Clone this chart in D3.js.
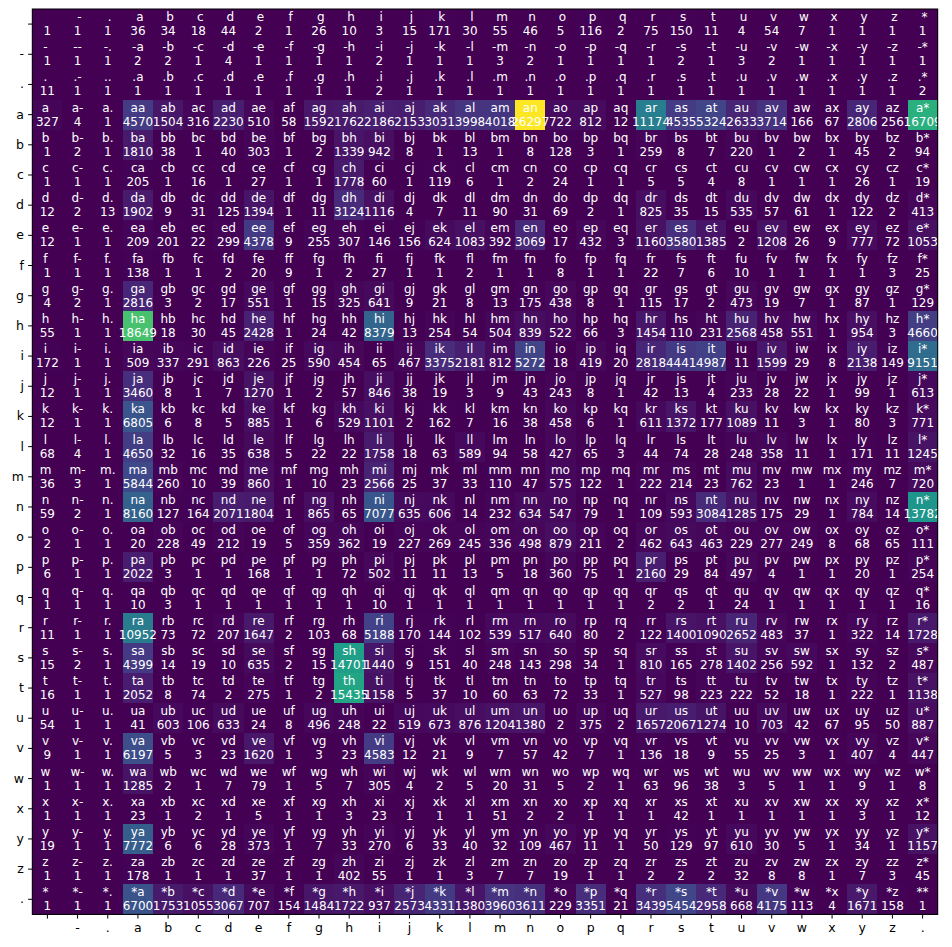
<!DOCTYPE html>
<html>
<head>
<meta charset="utf-8">
<script src="https://cdn.jsdelivr.net/npm/d3@7"></script>
<style>
  body { margin: 0; background: #fff; }
  text { font-family: "DejaVu Sans", sans-serif; }
</style>
</head>
<body>
<svg id="chart" width="952" height="947"></svg>
<script>
// characters used in the cell labels, and the tick labels shown on the axes
var chars = [" ", "-", ".", "a", "b", "c", "d", "e", "f", "g", "h", "i", "j", "k", "l", "m",
             "n", "o", "p", "q", "r", "s", "t", "u", "v", "w", "x", "y", "z", "*"];
var tickLabels = [" ", "-", ".", "a", "b", "c", "d", "e", "f", "g", "h", "i", "j", "k", "l", "m",
                  "n", "o", "p", "q", "r", "s", "t", "u", "v", "w", "x", "y", "z", "."];

// bigram counts, one row per first character
var counts = [
  [1,1,1,36,34,18,44,2,1,26,10,3,15,171,30,55,46,5,116,2,75,150,11,4,54,7,1,1,1,1],
  [1,1,1,2,2,1,4,1,1,1,1,2,1,1,1,3,2,1,1,1,1,2,1,3,2,1,1,1,1,1],
  [11,1,1,1,1,1,1,1,1,1,1,2,1,1,1,1,1,1,1,1,1,1,1,1,1,1,1,1,1,2],
  [327,4,1,4570,1504,316,2230,510,58,1592,1762,2186,2153,3031,3998,4018,26297,722,812,12,11174,4535,5324,2633,3714,166,67,2806,256,16709],
  [1,2,1,1810,38,1,40,303,1,2,1339,942,8,1,13,1,8,128,3,1,259,8,7,220,1,2,1,45,2,94],
  [1,1,1,205,1,16,1,27,1,1,1778,60,1,119,6,1,2,24,1,1,5,5,4,8,1,1,1,26,1,19],
  [12,2,13,1902,9,31,125,1394,1,11,3124,1116,4,7,11,90,31,69,2,1,825,35,15,535,57,61,1,122,2,413],
  [12,1,1,209,201,22,299,4378,9,255,307,146,156,624,1083,392,3069,17,432,3,1160,3580,1385,2,1208,26,9,777,72,1053],
  [1,1,1,138,1,1,2,20,9,1,2,27,1,1,2,1,1,8,1,1,22,7,6,10,1,1,1,1,3,25],
  [4,2,1,2816,3,2,17,551,1,15,325,641,9,21,8,13,175,438,8,1,115,17,2,473,19,7,1,87,1,129],
  [55,1,1,18649,18,30,45,2428,1,24,42,8379,13,254,54,504,839,522,66,3,1454,110,231,2568,458,551,1,954,3,4660],
  [172,1,1,509,337,291,863,226,25,590,454,65,467,3375,2181,812,5272,18,419,20,2818,4441,4987,11,1599,29,8,2138,149,9151],
  [12,1,1,3460,8,1,7,1270,1,2,57,846,38,19,3,9,43,243,8,1,42,13,4,233,28,22,1,99,1,613],
  [12,1,1,6805,6,8,5,885,1,6,529,1101,2,162,7,16,38,458,6,1,611,1372,177,1089,11,3,1,80,3,771],
  [68,4,1,4650,32,16,35,638,5,22,22,1758,18,63,589,94,58,427,65,3,44,74,28,248,358,11,1,171,11,1245],
  [36,3,1,5844,260,10,39,860,1,10,23,2566,25,37,33,110,47,575,122,1,222,214,23,762,23,1,1,246,7,720],
  [59,2,1,8160,127,164,2071,1804,1,865,65,7077,635,606,14,232,634,547,79,1,109,593,3084,1285,175,29,1,784,14,13782],
  [2,1,1,20,228,49,212,19,5,359,362,19,227,269,245,336,498,879,211,2,462,643,463,229,277,249,8,68,65,111],
  [6,1,1,2022,3,1,1,168,1,1,72,502,11,11,13,5,18,360,75,1,2160,29,84,497,4,1,1,20,1,254],
  [1,1,1,10,3,1,1,1,1,1,1,10,1,1,1,1,1,1,1,1,2,2,1,24,1,1,1,1,1,16],
  [11,1,1,10952,73,72,207,1647,2,103,68,5188,170,144,102,539,517,640,80,2,122,1400,1090,2652,483,37,1,322,14,1728],
  [15,2,1,4399,14,19,10,635,2,15,14701,1440,9,151,40,248,143,298,34,1,810,165,278,1402,256,592,1,132,2,487],
  [16,1,1,2052,8,74,2,275,1,2,15435,1158,5,37,10,60,63,72,33,1,527,98,223,222,52,18,1,222,1,1138],
  [54,1,1,41,603,106,633,24,8,496,248,22,519,673,876,1204,1380,2,375,2,1657,2067,1274,10,703,42,67,95,50,887],
  [9,1,1,6197,5,3,23,1620,1,3,23,4583,12,21,9,7,57,42,7,1,136,18,9,55,25,3,1,407,4,447],
  [1,1,1,1285,2,1,7,79,1,5,7,305,4,2,5,20,31,5,2,1,63,96,38,3,5,1,1,9,1,8],
  [1,1,1,23,1,2,1,5,1,1,3,23,1,1,1,51,2,2,1,1,1,42,1,1,1,1,1,3,1,12],
  [19,1,1,7772,6,6,28,373,1,7,33,270,6,33,40,32,109,467,11,1,50,129,97,610,30,5,1,34,1,1157],
  [1,1,1,178,1,1,1,37,1,1,402,55,1,1,3,7,7,19,1,1,2,2,2,32,8,8,1,7,3,45],
  [1,1,1,6700,1753,1055,3067,707,154,1484,1722,937,2573,4331,1380,3960,3611,229,3351,21,3439,5454,2958,668,4175,113,4,1671,158,1]
];

var margin = {left: 32.3, top: 9},
    size = 905.4;

var svg = d3.select("#chart");
svg.append("rect").attr("width", 952).attr("height", 947).attr("fill", "#fff");

var idx = d3.range(chars.length);

var x = d3.scaleBand().domain(idx).range([margin.left, margin.left + size]);
var y = d3.scaleBand().domain(idx).range([margin.top, margin.top + size]);

var flat = [];
counts.forEach(function(row, i) {
  row.forEach(function(v, j) { flat.push({i: i, j: j, v: v}); });
});

var color = d3.scaleSequential(d3.interpolateViridis)
    .domain(d3.extent(flat, function(d) { return d.v; }));

svg.append("g")
    .attr("shape-rendering", "crispEdges")
  .selectAll("rect")
  .data(flat)
  .enter().append("rect")
    .attr("x", function(d) { return x(d.j); })
    .attr("y", function(d) { return y(d.i); })
    .attr("width", x.bandwidth() + 0.6)
    .attr("height", y.bandwidth() + 0.6)
    .attr("fill", function(d) { return color(d.v); });

var cells = svg.append("g")
    .attr("fill", "#fff")
    .attr("font-size", 12)
    .attr("text-anchor", "middle");

// bigram above the centre, count below it
cells.selectAll("text.label")
  .data(flat)
  .enter().append("text")
    .attr("class", "label")
    .attr("x", function(d) { return x(d.j) + x.bandwidth() / 2; })
    .attr("y", function(d) { return y(d.i) + y.bandwidth() / 2 - 3; })
    .style("white-space", "pre")
    .text(function(d) { return chars[d.i] + chars[d.j]; });

cells.selectAll("text.count")
  .data(flat)
  .enter().append("text")
    .attr("class", "count")
    .attr("x", function(d) { return x(d.j) + x.bandwidth() / 2; })
    .attr("y", function(d) { return y(d.i) + y.bandwidth() / 2 + 11; })
    .text(function(d) { return d.v; });

var xAxis = svg.append("g")
    .attr("transform", "translate(0," + (margin.top + size) + ")")
    .call(d3.axisBottom(x).tickFormat(function(i) { return tickLabels[i]; })
      .tickSize(4.2).tickPadding(4.2));

var yAxis = svg.append("g")
    .attr("transform", "translate(" + margin.left + ",0)")
    .call(d3.axisLeft(y).tickFormat(function(i) { return tickLabels[i]; })
      .tickSize(4.2).tickPadding(4.2));

[xAxis, yAxis].forEach(function(g) {
  g.select(".domain").remove();
  g.selectAll("text").attr("font-size", 12.5).attr("fill", "#000")
    .attr("font-family", "DejaVu Sans");
  g.selectAll("line").attr("stroke", "#000").attr("stroke-width", 1);
});

svg.append("rect")
    .attr("x", margin.left).attr("y", margin.top)
    .attr("width", size).attr("height", size)
    .attr("fill", "none").attr("stroke", "#000").attr("stroke-width", 1);
</script>
</body>
</html>
